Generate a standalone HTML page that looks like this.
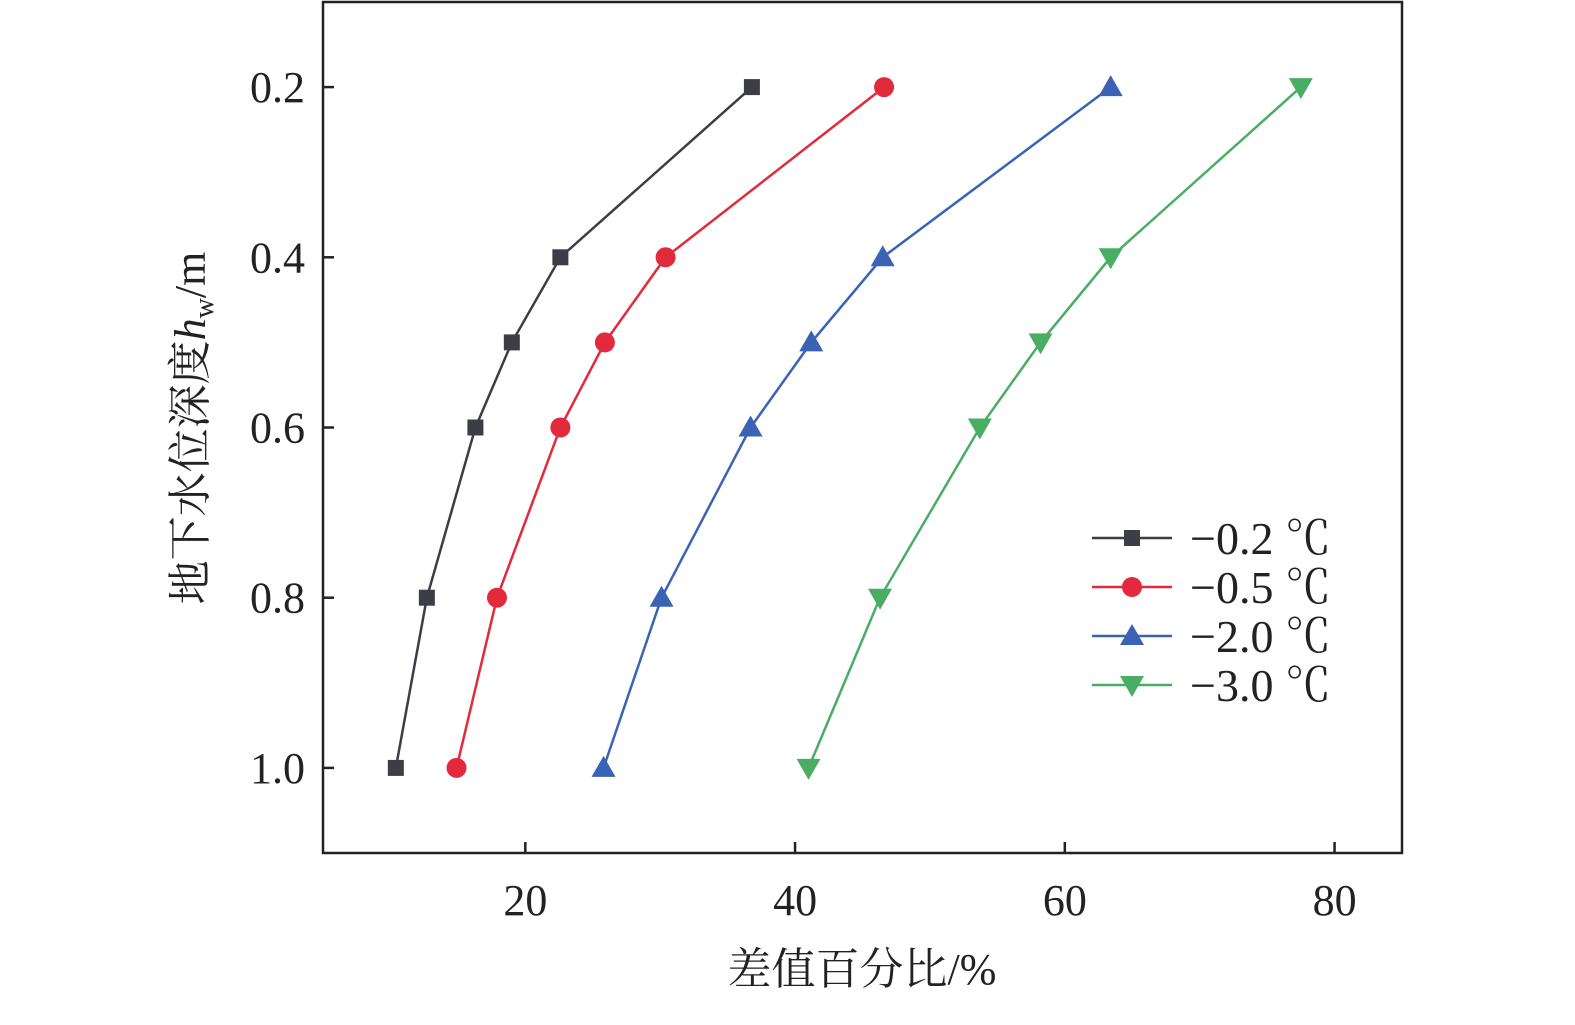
<!DOCTYPE html>
<html><head><meta charset="utf-8"><style>
html,body{margin:0;padding:0;background:#fff;}
svg text{font-family:"Liberation Serif","Noto Serif CJK SC",serif;fill:#222;}
</style></head><body>
<svg width="1575" height="1002" viewBox="0 0 1575 1002" id="chart">
<g id="plot"></g>
</svg>
<script>
const yValues=[0.2,0.4,0.5,0.6,0.8,1.0];
const series0=[36.8,22.6,19.0,16.3,12.7,10.4];
const series1=[46.6,30.4,25.9,22.6,17.9,14.9];
const series2=[63.4,46.5,41.2,36.7,30.1,25.8];
const series3=[77.5,63.4,58.2,53.7,46.3,41.0];
const seriesLabels=["\u22120.2 \u2103","\u22120.5 \u2103","\u22122.0 \u2103","\u22123.0 \u2103"];
const xTicks=[20,40,60,80];
const yTicks=[0.2,0.4,0.6,0.8,1.0];
const colors=["#3d3d45","#e32a3c","#3a63b5","#4aad64"];
const markers=["square","circle","up","down"];
const L=323,R=1402,T=2,B=853,xmin=5,xmax=85,ymin=0.1,ymax=1.1;
const sx=v=>L+(v-xmin)/(xmax-xmin)*(R-L);
const sy=v=>T+(v-ymin)/(ymax-ymin)*(B-T);
const ns="http://www.w3.org/2000/svg";
const g=document.getElementById('plot');
function mk(tag,attrs,parent){const e=document.createElementNS(ns,tag);for(const k in attrs)e.setAttribute(k,attrs[k]);(parent||g).appendChild(e);return e;}
const frame=mk('rect',{x:L,y:T,width:R-L,height:B-T,fill:'none',stroke:'#222','stroke-width':2.5});


xTicks.forEach(t=>{
 const l=mk('line',{x1:sx(t),x2:sx(t),y1:B,y2:B-11,stroke:'#222','stroke-width':2.5});
 
 
 const tx=mk('text',{x:sx(t),y:B+62,'text-anchor':'middle','font-size':44});
 tx.textContent=t;
 
 
});
yTicks.forEach(t=>{
 const l=mk('line',{x1:L,x2:L+11,y1:sy(t),y2:sy(t),stroke:'#222','stroke-width':2.5});
 
 
 const tx=mk('text',{x:L-18,y:sy(t)+15,'text-anchor':'end','font-size':44});
 tx.textContent=t.toFixed(1);
 
 
});
function marker(type,x,y,c,parent){
 let e;
 if(type==='square')e=mk('rect',{x:x-8,y:y-8,width:16,height:16,fill:c},parent);
 else if(type==='circle')e=mk('circle',{cx:x,cy:y,r:10,fill:c},parent);
 else if(type==='up')e=mk('polygon',{points:`${x},${y-12} ${x-12},${y+9} ${x+12},${y+9}`,fill:c},parent);
 else e=mk('polygon',{points:`${x},${y+12} ${x-12},${y-9} ${x+12},${y-9}`,fill:c},parent);
 return e;
}
[series0,series1,series2,series3].forEach((s,i)=>{
 const grp=mk('g',{});
 
 
 const pl=mk('polyline',{points:s.map((v,j)=>sx(v)+','+sy(yValues[j])).join(' '),fill:'none',stroke:colors[i],'stroke-width':2.5},grp);
 
 
 s.forEach((v,j)=>{
  const m=marker(markers[i],sx(v),sy(yValues[j]),colors[i],grp);
  
  
 });
 const ly=538+i*49;
 const lg=mk('g',{});
 
 
 mk('line',{x1:1092,x2:1172,y1:ly,y2:ly,stroke:colors[i],'stroke-width':2.5},lg);
 marker(markers[i],1132,ly,colors[i],lg);
 const t=mk('text',{x:1190,y:ly+16,'font-size':46},lg);
 t.textContent=seriesLabels[i];
});
</script>
<svg width="0" height="0"></svg>
<div style="position:absolute;left:0;top:0;width:1575px;height:1002px;pointer-events:none;">
<svg width="1575" height="1002" style="position:absolute;left:0;top:0">
<text x="862" y="984" text-anchor="middle" font-size="44" style="font-family:'Liberation Serif','Noto Serif CJK SC',serif;fill:#222">差值百分比/%</text>
<text transform="translate(205,428) rotate(-90)" text-anchor="middle" font-size="44" style="font-family:'Liberation Serif','Noto Serif CJK SC',serif;fill:#222">地下水位深度<tspan font-style="italic">h</tspan><tspan font-size="28" dy="8">w</tspan><tspan dy="-8">/m</tspan></text>
</svg></div>
</body></html>
